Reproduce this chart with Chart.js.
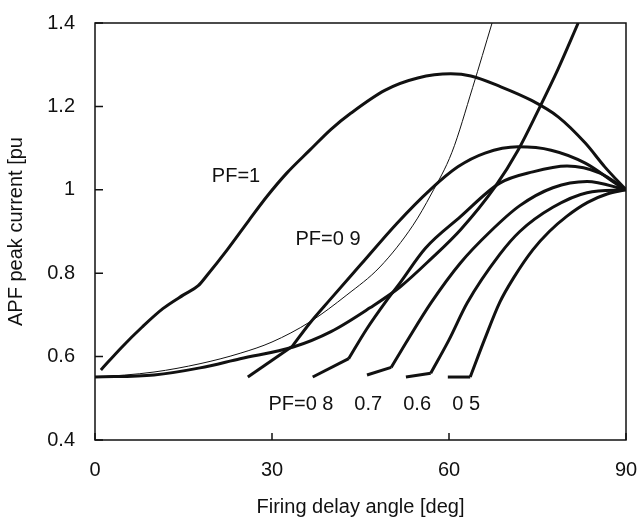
<!DOCTYPE html>
<html>
<head>
<meta charset="utf-8">
<script src="https://cdn.jsdelivr.net/npm/chart.js@4.4.1/dist/chart.umd.min.js"></script>
<style>
  html, body { margin: 0; padding: 0; background: #fff; }
</style>
</head>
<body>
<canvas id="apfChart" width="638" height="520"></canvas>
<script>
// firing delay angle [deg] vs APF peak current [pu]
// each PF curve: a short straight lead-in, then the smooth part from the kink
const pf10 = [[1,0.568],[4.5,0.622],[8,0.671],[11.5,0.715],[15,0.748],[17.5,0.770],[19,0.795],[22.4,0.856],[26,0.925],[29.2,0.985],[32.5,1.04],[36.4,1.095],[40,1.145],[43.4,1.184],[49.2,1.239],[54.7,1.268],[60.3,1.278],[63.7,1.273],[68.8,1.247],[73.9,1.215],[78.5,1.175],[83.1,1.112],[86.4,1.055],[90,1.0]];
const pf09Lead = [[25.9,0.551],[33.4,0.624]];
const pf09 = [[33.4,0.624],[36.4,0.68],[39.8,0.736],[45,0.82],[51.2,0.92],[56.8,1.0],[61.5,1.055],[66.1,1.088],[71.7,1.103],[77.3,1.095],[83.1,1.064],[88.6,1.012],[90,1.0]];
const pf08Lead = [[36.9,0.551],[43,0.595]];
const pf08 = [[43,0.595],[46,0.665],[49.5,0.736],[51.7,0.777],[56,0.86],[61.9,0.935],[68.6,1.016],[74.2,1.043],[80,1.057],[85.6,1.04],[90,1.0]];
const pf07Lead = [[46.1,0.556],[50.2,0.574]];
const pf07 = [[50.2,0.574],[53,0.64],[57,0.73],[61.9,0.824],[67,0.9],[72,0.962],[77.6,1.005],[83.4,1.02],[90,1.0]];
const pf06Lead = [[52.7,0.551],[56.9,0.56]];
const pf06 = [[56.9,0.56],[60,0.64],[63.1,0.729],[68.6,0.845],[72,0.9],[77.6,0.958],[83.4,0.993],[90,1.0]];
const pf05Lead = [[59.8,0.551],[63.6,0.551]];
const pf05 = [[63.6,0.551],[66,0.64],[68.6,0.73],[71,0.79],[74.2,0.856],[77,0.9],[80,0.937],[83.5,0.97],[86.8,0.99],[90,1.0]];
// the two rising boundary curves (thin and thick)
const limitThin = [[0,0.55],[10,0.563],[17.8,0.583],[24.6,0.608],[30,0.635],[36.4,0.683],[42.7,0.748],[48.3,0.815],[53.9,0.915],[57,0.99],[60.5,1.09],[64,1.245],[67.3,1.4]];
const limitThick = [[0,0.551],[10,0.556],[17.8,0.573],[24.6,0.595],[33.6,0.623],[40,0.66],[46.6,0.717],[51.7,0.767],[57,0.835],[62,0.905],[67.8,1.007],[71.7,1.095],[75.1,1.19],[78.5,1.29],[81.9,1.4]];

const xTicks = [0, 30, 60, 90];
const yTicks = [0.4, 0.6, 0.8, 1, 1.2, 1.4];
const yTickLabels = ["0.4", "0.6", "0.8", "1", "1.2", "1.4"];

const curveLabels = [
  { text: "PF=1", x: 23.9, y: 1.033 },
  { text: "PF=0 9", x: 39.5, y: 0.88 },
  { text: "PF=0 8", x: 34.9, y: 0.484 },
  { text: "0.7", x: 46.3, y: 0.484 },
  { text: "0.6", x: 54.6, y: 0.484 },
  { text: "0 5", x: 62.9, y: 0.484 }
];

const FONT = '"Liberation Sans", Arial, sans-serif';
const ink = "#111";

function curve(data, width) {
  return {
    data,
    borderColor: ink,
    borderWidth: width,
    pointRadius: 0,
    fill: false,
    cubicInterpolationMode: "monotone"
  };
}

function lead(data) {
  return { data, borderColor: ink, borderWidth: 3, pointRadius: 0, fill: false, tension: 0 };
}

// box round the plot, inward tick marks and the PF labels
const frame = {
  id: "frame",
  afterDatasetsDraw(chart) {
    const { ctx, chartArea: a, scales: { x, y } } = chart;
    ctx.save();
    ctx.strokeStyle = ink;
    ctx.lineWidth = 1.5;
    ctx.strokeRect(a.left, a.top, a.right - a.left, a.bottom - a.top);
    ctx.beginPath();
    yTicks.forEach(v => {
      const py = y.getPixelForValue(v);
      ctx.moveTo(a.left, py);
      ctx.lineTo(a.left + 8, py);
    });
    xTicks.forEach(v => {
      const px = x.getPixelForValue(v);
      ctx.moveTo(px, a.bottom);
      ctx.lineTo(px, a.bottom - 7);
    });
    ctx.stroke();

    ctx.fillStyle = ink;
    ctx.font = "20px " + FONT;
    ctx.textAlign = "center";
    ctx.textBaseline = "middle";
    curveLabels.forEach(l => {
      ctx.fillText(l.text, x.getPixelForValue(l.x), y.getPixelForValue(l.y));
    });
    ctx.restore();
  }
};

new Chart(document.getElementById("apfChart").getContext("2d"), {
  type: "line",
  data: {
    datasets: [
      curve(limitThin, 1),
      curve(limitThick, 3),
      curve(pf10, 3),
      lead(pf09Lead), curve(pf09, 3),
      lead(pf08Lead), curve(pf08, 3),
      lead(pf07Lead), curve(pf07, 3),
      lead(pf06Lead), curve(pf06, 3),
      lead(pf05Lead), curve(pf05, 3)
    ]
  },
  options: {
    responsive: false,
    animation: false,
    layout: { padding: { top: 23, right: 12, left: 0, bottom: 0 } },
    plugins: { legend: { display: false }, tooltip: { enabled: false } },
    scales: {
      x: {
        type: "linear",
        min: 0,
        max: 90,
        afterBuildTicks: s => { s.ticks = xTicks.map(v => ({ value: v })); },
        afterFit: s => { s.height = 80; s.paddingLeft = 0; s.paddingRight = 0; },
        grid: { display: false, drawTicks: false },
        border: { display: false },
        ticks: { padding: 18, color: ink, font: { family: FONT, size: 20 } },
        title: {
          display: true,
          text: "Firing delay angle [deg]",
          color: ink,
          font: { family: FONT, size: 20 },
          padding: { top: 0, bottom: 1 }
        }
      },
      y: {
        type: "linear",
        min: 0.4,
        max: 1.4,
        afterBuildTicks: s => { s.ticks = yTicks.map(v => ({ value: v })); },
        afterFit: s => { s.width = 95; s.paddingTop = 0; s.paddingBottom = 0; },
        grid: { display: false, drawTicks: false },
        border: { display: false },
        ticks: {
          padding: 20,
          color: ink,
          font: { family: FONT, size: 20 },
          callback: (v, i) => yTickLabels[i]
        },
        title: {
          display: true,
          text: "APF peak current [pu",
          color: ink,
          font: { family: FONT, size: 20 },
          padding: { top: 4, bottom: 0 }
        }
      }
    }
  },
  plugins: [frame]
});
</script>
</body>
</html>
